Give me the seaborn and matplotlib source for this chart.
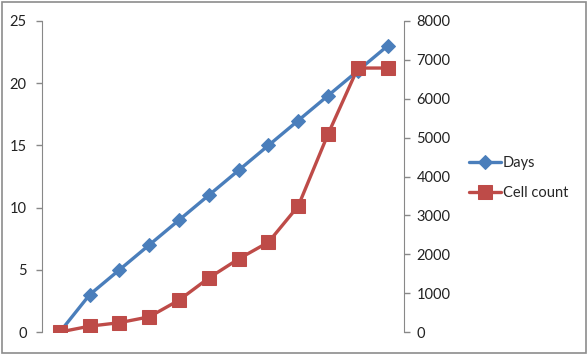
import numpy as np
import pandas as pd
import matplotlib
matplotlib.use("Agg")
import matplotlib.pyplot as plt
import seaborn as sns
from matplotlib.patches import Rectangle

# data
points = list(range(12))
days = [0, 3, 5, 7, 9, 11, 13, 15, 17, 19, 21, 23]
cell_count = [0, 150, 240, 390, 820, 1390, 1880, 2310, 3240, 5090, 6790, 6790]

df = pd.DataFrame({"point": points, "Days": days, "Cell count": cell_count})

sns.set_style("white")
plt.rcParams['font.family'] = ['Lato', 'DejaVu Sans']

blue = "#4A7EBB"
red = "#BE4B48"
grey = "#888888"

fig = plt.figure(figsize=(5.88, 3.54), dpi=100)
ax = fig.add_axes([42/588, 22/354, 362/588, 311/354])
ax2 = ax.twinx()

sns.lineplot(data=df, x="point", y="Days", ax=ax, color=blue, lw=2.4,
             marker="D", markersize=7, markeredgecolor=blue, label="Days", legend=False)
sns.lineplot(data=df, x="point", y="Cell count", ax=ax2, color=red, lw=2.4,
             marker="s", markersize=10, markeredgecolor=red, label="Cell count", legend=False)

ax.set_xlim(-0.6, 11.55)
ax.set_ylim(0, 25)
ax2.set_ylim(0, 8000)
ax.set_yticks([0, 5, 10, 15, 20, 25])
ax2.set_yticks(range(0, 8001, 1000))
ax.set_xticks([])
for a in (ax, ax2):
    a.set_xlabel("")
    a.set_ylabel("")
    for s in a.spines.values():
        s.set_visible(False)
    a.tick_params(axis="y", length=4, width=1, color=grey, labelsize=10.5,
                  labelcolor="#222222")
ax.spines["left"].set_visible(True)
ax.spines["left"].set_color(grey)
ax2.spines["right"].set_visible(True)
ax2.spines["right"].set_color(grey)
ax.tick_params(axis="y", pad=7)
ax2.tick_params(axis="y", pad=5)

h1, l1 = ax.get_legend_handles_labels()
h2, l2 = ax2.get_legend_handles_labels()
fig.legend(h1 + h2, l1 + l2, loc="center left", bbox_to_anchor=(456/588, 1 - 178/354),
           frameon=False, fontsize=10.5, handlelength=2.2, handletextpad=0.1,
           labelspacing=1.1)

fig.patches.append(Rectangle((0.003, 0.004), 0.994, 0.99, transform=fig.transFigure,
                             fill=False, edgecolor="#8C8C8C", lw=1.2))

fig.savefig("out.png", dpi=100)
